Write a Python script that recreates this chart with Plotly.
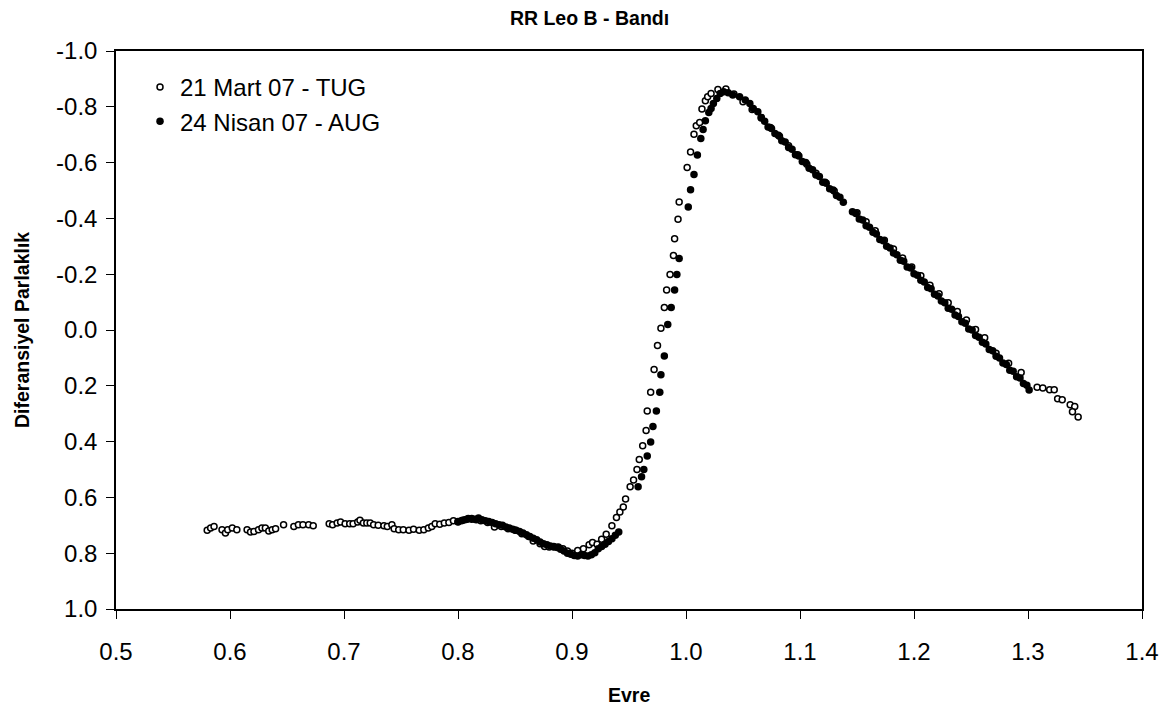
import plotly.graph_objects as go

# --- 21 Mart 07 - TUG (open circles) ---
tug_phase = [
    0.580, 0.583, 0.586, 0.593, 0.596, 0.598, 0.602, 0.606, 0.615, 0.618,
    0.621, 0.625, 0.628, 0.631, 0.634, 0.637, 0.640, 0.647, 0.656, 0.660,
    0.664, 0.669, 0.673, 0.687, 0.690, 0.694, 0.697, 0.701, 0.705, 0.708,
    0.712, 0.714, 0.717, 0.720, 0.723, 0.726, 0.730, 0.735, 0.738, 0.742,
    0.744, 0.748, 0.752, 0.757, 0.761, 0.766, 0.770, 0.774, 0.777, 0.780,
    0.784, 0.788, 0.792, 0.796, 0.800, 0.804, 0.808, 0.812, 0.816, 0.820,
    0.826, 0.832, 0.838, 0.844, 0.850, 0.856, 0.862, 0.866, 0.872, 0.876,
    0.880, 0.884, 0.888, 0.892, 0.896, 0.900, 0.905, 0.910, 0.915, 0.918,
    0.922, 0.926, 0.930, 0.935, 0.939, 0.942, 0.945, 0.947, 0.951, 0.954,
    0.957, 0.959, 0.962, 0.965, 0.966, 0.969, 0.972, 0.975, 0.978, 0.981,
    0.983, 0.986, 0.989, 0.990, 0.993, 0.994, 1.001, 1.004, 1.007, 1.009,
    1.012, 1.014, 1.017, 1.019, 1.022, 1.028, 1.035, 1.042, 1.050, 1.058,
    1.066, 1.074, 1.082, 1.090, 1.098, 1.106, 1.114, 1.122, 1.130, 1.150,
    1.158, 1.166, 1.174, 1.182, 1.190, 1.198, 1.206, 1.214, 1.222, 1.230,
    1.238, 1.246, 1.254, 1.262, 1.272, 1.283, 1.294, 1.308, 1.313, 1.319,
    1.323, 1.326, 1.330, 1.337, 1.341, 1.339, 1.344,
]
tug_mag = [
    0.718, 0.710, 0.704, 0.716, 0.728, 0.716, 0.710, 0.716, 0.716, 0.724,
    0.722, 0.716, 0.710, 0.710, 0.720, 0.716, 0.712, 0.698, 0.704, 0.698,
    0.698, 0.698, 0.702, 0.694, 0.698, 0.692, 0.688, 0.694, 0.694, 0.694,
    0.688, 0.682, 0.692, 0.692, 0.692, 0.698, 0.700, 0.702, 0.704, 0.698,
    0.712, 0.716, 0.716, 0.718, 0.714, 0.718, 0.716, 0.710, 0.704, 0.694,
    0.696, 0.692, 0.690, 0.684, 0.686, 0.682, 0.678, 0.678, 0.680, 0.684,
    0.690, 0.706, 0.704, 0.712, 0.718, 0.730, 0.740, 0.756, 0.766, 0.776,
    0.778, 0.778, 0.778, 0.784, 0.792, 0.800, 0.790, 0.784, 0.770, 0.762,
    0.768, 0.750, 0.732, 0.702, 0.672, 0.652, 0.634, 0.606, 0.562, 0.538,
    0.500, 0.464, 0.415, 0.360, 0.290, 0.223, 0.142, 0.056, -0.006, -0.081,
    -0.143, -0.199, -0.267, -0.327, -0.397, -0.459, -0.582, -0.638, -0.702, -0.732,
    -0.744, -0.792, -0.822, -0.836, -0.848, -0.862, -0.864, -0.846, -0.818, -0.790,
    -0.760, -0.726, -0.694, -0.660, -0.628, -0.594, -0.562, -0.530, -0.498, -0.420,
    -0.388, -0.356, -0.322, -0.290, -0.258, -0.226, -0.194, -0.160, -0.130, -0.098,
    -0.066, -0.036, -0.002, 0.028, 0.083, 0.119, 0.152, 0.205, 0.208, 0.214,
    0.214, 0.246, 0.250, 0.268, 0.274, 0.293, 0.312,
]

# --- 24 Nisan 07 - AUG (filled circles) ---
aug_phase = [
    0.800, 0.803, 0.806, 0.809, 0.812, 0.815, 0.818, 0.821, 0.824, 0.827,
    0.830, 0.833, 0.836, 0.839, 0.842, 0.845, 0.848, 0.851, 0.854, 0.857,
    0.860, 0.863, 0.866, 0.869, 0.872, 0.875, 0.878, 0.881, 0.884, 0.887,
    0.890, 0.893, 0.896, 0.899, 0.902, 0.905, 0.908, 0.911, 0.914, 0.917,
    0.920, 0.923, 0.926, 0.929, 0.932, 0.935, 0.938, 0.941,
    0.958, 0.961, 0.963, 0.966, 0.969, 0.971, 0.974, 0.977, 0.978, 0.981,
    0.984, 0.987, 0.990, 0.992, 0.994, 1.002, 1.004, 1.007, 1.010, 1.013,
    1.015, 1.017, 1.020, 1.022, 1.024, 1.027, 1.030, 1.033, 1.037, 1.041,
    1.047, 1.052, 1.056, 1.059, 1.063,
    1.066, 1.069, 1.072, 1.075, 1.078, 1.081, 1.084, 1.087, 1.090, 1.093,
    1.096, 1.099, 1.102, 1.105, 1.108, 1.111, 1.114, 1.117, 1.120, 1.123,
    1.126, 1.129, 1.132, 1.135, 1.138,
    1.146, 1.149, 1.152, 1.155, 1.158, 1.161, 1.164, 1.167, 1.170, 1.173,
    1.176, 1.179, 1.182, 1.185, 1.188, 1.191, 1.194, 1.197, 1.200, 1.203,
    1.206, 1.209, 1.212, 1.215, 1.218, 1.221, 1.224, 1.227, 1.230, 1.233,
    1.236, 1.239, 1.242, 1.245, 1.248, 1.251, 1.254, 1.257, 1.260, 1.263,
    1.266, 1.269, 1.272, 1.275, 1.278, 1.281, 1.284, 1.287, 1.290, 1.293,
    1.296, 1.299, 1.301,
]
aug_mag = [
    0.688, 0.684, 0.680, 0.676, 0.676, 0.678, 0.674, 0.680, 0.684, 0.686,
    0.690, 0.694, 0.698, 0.700, 0.706, 0.710, 0.714, 0.718, 0.722, 0.728,
    0.734, 0.740, 0.746, 0.752, 0.760, 0.766, 0.770, 0.774, 0.776, 0.780,
    0.786, 0.792, 0.800, 0.804, 0.808, 0.810, 0.806, 0.808, 0.810, 0.806,
    0.798, 0.784, 0.776, 0.768, 0.758, 0.748, 0.736, 0.724,
    0.562, 0.526, 0.500, 0.452, 0.401, 0.346, 0.290, 0.223, 0.160, 0.093,
    -0.020, -0.081, -0.143, -0.199, -0.256, -0.441, -0.503, -0.557, -0.627, -0.686,
    -0.719, -0.750, -0.780, -0.794, -0.812, -0.830, -0.848, -0.854, -0.850, -0.842,
    -0.836, -0.824, -0.812, -0.794, -0.782,
    -0.762, -0.748, -0.728, -0.722, -0.704, -0.698, -0.678, -0.674, -0.654, -0.648,
    -0.628, -0.624, -0.604, -0.600, -0.580, -0.574, -0.556, -0.550, -0.530, -0.526,
    -0.506, -0.502, -0.482, -0.476, -0.458,
    -0.424, -0.418, -0.398, -0.394, -0.374, -0.368, -0.350, -0.344, -0.324, -0.320,
    -0.300, -0.294, -0.276, -0.270, -0.250, -0.246, -0.226, -0.222, -0.202, -0.196,
    -0.178, -0.172, -0.152, -0.148, -0.128, -0.122, -0.104, -0.098, -0.078, -0.074,
    -0.054, -0.048, -0.030, -0.024, -0.004, 0.000, 0.020, 0.026, 0.044, 0.050,
    0.070, 0.074, 0.094, 0.100, 0.118, 0.124, 0.144, 0.148, 0.168, 0.172,
    0.192, 0.198, 0.215,
]

x_ticks = [0.5, 0.6, 0.7, 0.8, 0.9, 1.0, 1.1, 1.2, 1.3, 1.4]
x_tick_text = ["0.5", "0.6", "0.7", "0.8", "0.9", "1.0", "1.1", "1.2", "1.3", "1.4"]
y_ticks = [-1.0, -0.8, -0.6, -0.4, -0.2, 0.0, 0.2, 0.4, 0.6, 0.8, 1.0]
y_tick_text = ["-1.0", "-0.8", "-0.6", "-0.4", "-0.2", "0.0", "0.2", "0.4", "0.6", "0.8", "1.0"]

FONT = "Liberation Sans, Arial, sans-serif"

fig = go.Figure()
fig.add_trace(go.Scatter(
    x=tug_phase, y=tug_mag, mode="markers", name="21 Mart 07 - TUG",
    marker=dict(symbol="circle", size=6, color="white",
                line=dict(color="black", width=1.5)),
    legendgroup="a",
))
fig.add_trace(go.Scatter(
    x=aug_phase, y=aug_mag, mode="markers", name="24 Nisan 07 - AUG",
    marker=dict(symbol="circle", size=7.5, color="black",
                line=dict(color="black", width=0)),
    legendgroup="b",
))

fig.update_layout(
    width=1163, height=703,
    paper_bgcolor="white", plot_bgcolor="white",
    margin=dict(l=108, r=29, t=43, b=102),
    font=dict(family=FONT, size=24, color="black"),
    title=dict(text="<b>RR Leo B - Bandı</b>", x=0.5, xref="container",
               y=1 - 10 / 703, yref="container", yanchor="middle",
               xanchor="center", font=dict(size=19.5, family=FONT)),
    showlegend=True,
    legend=dict(x=0.0234, y=0.975, xanchor="left", yanchor="top",
                bgcolor="rgba(0,0,0,0)", font=dict(size=24, family=FONT),
                tracegroupgap=0, traceorder="grouped"),
    xaxis=dict(range=[0.5, 1.4], tickvals=x_ticks, ticktext=x_tick_text,
               ticks="outside", ticklen=8, tickwidth=1, tickcolor="black",
               showline=True, linecolor="black", linewidth=1.5, mirror=True,
               showgrid=False, zeroline=False, ticklabelstandoff=12,
               automargin=False),
    yaxis=dict(range=[1.0, -1.0], tickvals=y_ticks, ticktext=y_tick_text,
               ticks="outside", ticklen=8, tickwidth=1, tickcolor="black",
               showline=True, linecolor="black", linewidth=1.5, mirror=True,
               showgrid=False, zeroline=False, ticklabelstandoff=4,
               automargin=False),
    annotations=[
        dict(text="<b>Evre</b>", xref="paper", yref="paper", x=0.5, y=-0.154,
             xanchor="center", yanchor="middle", showarrow=False,
             font=dict(size=19.5, family=FONT)),
        dict(text="<b>Diferansiyel Parlaklık</b>", xref="paper", yref="paper",
             x=-0.0916, y=0.5, xanchor="center", yanchor="middle",
             textangle=-90, showarrow=False, font=dict(size=19.5, family=FONT)),
    ],
)

fig.write_html("out.html")
